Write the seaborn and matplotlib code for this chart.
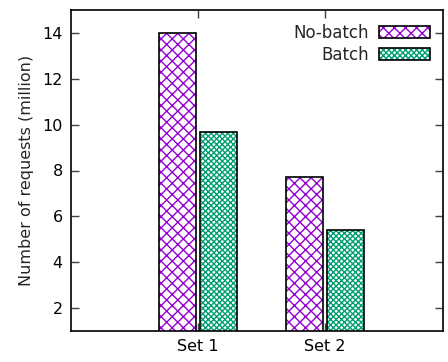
import matplotlib
matplotlib.use("Agg")
import matplotlib.pyplot as plt
import seaborn as sns
import pandas as pd
from matplotlib.patches import Rectangle

categories = ["Set 1", "Set 2"]
series = ["No-batch", "Batch"]
no_batch = [14.0, 7.7]
batch = [9.7, 5.4]
yticks = [2, 4, 6, 8, 10, 12, 14]

df = pd.DataFrame({
    "set": categories * 2,
    "series": [series[0]] * 2 + [series[1]] * 2,
    "value": no_batch + batch,
})

sns.set_style("ticks")
plt.rcParams["font.family"] = ["DejaVu Sans"]
plt.rcParams["hatch.linewidth"] = 1.0

colors = {"No-batch": "#9400D3", "Batch": "#009E73"}
hatches = {"No-batch": "xxx", "Batch": "xxxxxx"}

fig = plt.figure(figsize=(4.48, 3.62), dpi=100)
ax = fig.add_axes([71/448, 31/362, (443-71)/448, (331-10)/362])

order = ["", "Set 1", "Set 2", " "]
sns.barplot(data=df, x="set", y="value", hue="series", order=order,
            hue_order=series, palette=colors, width=0.65, gap=0.1,
            ax=ax, legend=False)

handles = []
for cont, name in zip(ax.containers, series):
    for p in cont.patches:
        if p.get_height() != p.get_height() or p.get_height() == 0:
            continue
        p.set_facecolor("white")
        p.set_edgecolor(colors[name])
        p.set_hatch(hatches[name])
        p.set_linewidth(0)
        ax.add_patch(Rectangle(p.get_xy(), p.get_width(), p.get_height(),
                               fill=False, edgecolor="black", linewidth=1.2, zorder=3))
    h = Rectangle((0, 0), 1, 1, facecolor="white", edgecolor=colors[name],
                  hatch=hatches[name], linewidth=0)
    handles.append(h)

class HB:
    def legend_artist(self, legend, orig, fontsize, handlebox):
        x0, y0 = handlebox.xdescent, handlebox.ydescent
        w, h = handlebox.width, handlebox.height
        r = Rectangle((x0, y0), w, h, facecolor="white", edgecolor=orig.get_edgecolor(),
                      hatch=orig.get_hatch(), linewidth=0, transform=handlebox.get_transform())
        b = Rectangle((x0, y0), w, h, fill=False, edgecolor="black", linewidth=1.2,
                      transform=handlebox.get_transform())
        handlebox.add_artist(r)
        handlebox.add_artist(b)
        return r

leg = ax.legend(handles, series, loc="upper right", frameon=False, markerfirst=False,
                fontsize=12, handlelength=3.05, handleheight=0.7,
                handler_map={Rectangle: HB()}, borderaxespad=0.0,
                labelspacing=0.25, handletextpad=0.6, bbox_to_anchor=(0.982, 0.978))

ax.set_xlim(0, 2.93)
ax.set_ylim(1, 15)
ax.set_yticks(yticks)
ax.set_xticks([1, 2])
ax.set_xticklabels(categories)
ax.set_xlabel("")
ax.set_ylabel("Number of requests (million)", fontsize=11.5, labelpad=6)
ax.tick_params(direction="in", length=6, width=1, labelsize=11.5, top=True, right=True,
               pad=6, colors="#404040", labelcolor="black")
for s in ax.spines.values():
    s.set_visible(True)
    s.set_linewidth(1.2)
    s.set_color("black")

fig.savefig("out.png", dpi=100)
